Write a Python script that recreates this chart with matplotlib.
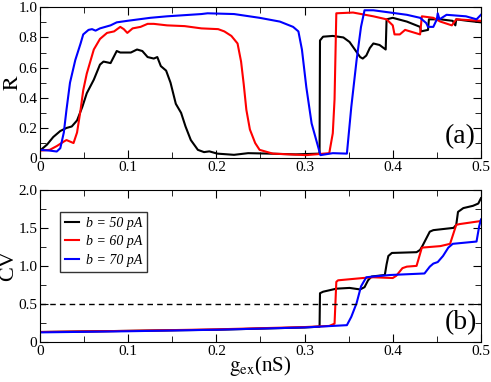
import numpy as np
import matplotlib
matplotlib.use('Agg')
import matplotlib.pyplot as plt
from matplotlib.ticker import MultipleLocator, FuncFormatter

plt.rcParams['font.family'] = ['Liberation Serif', 'DejaVu Serif']
plt.rcParams['mathtext.fontset'] = 'stix'

# order parameter R, panel (a)
g_r50 = [0, 0.008, 0.015, 0.023, 0.030, 0.036, 0.042, 0.048, 0.053, 0.061, 0.068, 0.072, 0.080, 0.087,
         0.091, 0.103, 0.110, 0.116, 0.122, 0.129, 0.133, 0.137, 0.143, 0.148, 0.154, 0.160, 0.165,
         0.171, 0.179, 0.186, 0.192, 0.201, 0.220, 0.236, 0.260, 0.290, 0.317, 0.3175, 0.321, 0.332,
         0.344, 0.351, 0.357, 0.363, 0.366, 0.370, 0.374, 0.378, 0.385, 0.392, 0.393, 0.400, 0.416,
         0.431, 0.432, 0.440, 0.441, 0.454, 0.468, 0.471, 0.472, 0.485, 0.500]
r50 = [0.05, 0.09, 0.14, 0.18, 0.20, 0.21, 0.25, 0.34, 0.43, 0.52, 0.62, 0.64, 0.63, 0.71,
       0.70, 0.70, 0.72, 0.71, 0.67, 0.66, 0.67, 0.61, 0.58, 0.50, 0.36, 0.30, 0.21,
       0.12, 0.055, 0.04, 0.045, 0.03, 0.022, 0.033, 0.03, 0.025, 0.03, 0.78, 0.805, 0.81,
       0.80, 0.77, 0.72, 0.67, 0.66, 0.68, 0.73, 0.76, 0.75, 0.72, 0.92, 0.93, 0.905,
       0.87, 0.84, 0.85, 0.92, 0.92, 0.91, 0.88, 0.92, 0.91, 0.90]

g_r60 = [0, 0.011, 0.019, 0.027, 0.030, 0.034, 0.038, 0.042, 0.046, 0.049, 0.053, 0.061, 0.068, 0.076,
         0.084, 0.091, 0.095, 0.099, 0.105, 0.114, 0.122, 0.129, 0.144, 0.164, 0.183, 0.202, 0.209,
         0.217, 0.224, 0.228, 0.231, 0.234, 0.238, 0.244, 0.249, 0.264, 0.302, 0.328, 0.332, 0.334,
         0.336, 0.355, 0.378, 0.393, 0.400, 0.402, 0.408, 0.414, 0.431, 0.433, 0.446, 0.454, 0.467,
         0.472, 0.500]
r60 = [0.05, 0.055, 0.08, 0.11, 0.12, 0.11, 0.10, 0.17, 0.32, 0.45, 0.56, 0.72, 0.79, 0.83,
       0.84, 0.87, 0.855, 0.83, 0.86, 0.87, 0.89, 0.89, 0.88, 0.875, 0.86, 0.855, 0.84,
       0.81, 0.76, 0.64, 0.49, 0.32, 0.19, 0.10, 0.055, 0.03, 0.02, 0.033, 0.165, 0.39,
       0.96, 0.965, 0.94, 0.92, 0.88, 0.82, 0.82, 0.85, 0.82, 0.94, 0.93, 0.905, 0.88,
       0.92, 0.91]

g_r70 = [0, 0.011, 0.019, 0.023, 0.027, 0.030, 0.034, 0.040, 0.046, 0.049, 0.055, 0.059, 0.063, 0.068,
         0.080, 0.087, 0.099, 0.125, 0.144, 0.183, 0.190, 0.220, 0.249, 0.272, 0.287, 0.293, 0.297,
         0.302, 0.308, 0.318, 0.332, 0.348, 0.353, 0.359, 0.364, 0.368, 0.378, 0.397, 0.416, 0.431,
         0.438, 0.440, 0.446, 0.450, 0.451, 0.453, 0.461, 0.483, 0.495, 0.500]
r70 = [0.055, 0.05, 0.044, 0.066, 0.17, 0.32, 0.50, 0.65, 0.76, 0.82, 0.85, 0.855, 0.845, 0.86,
       0.88, 0.90, 0.91, 0.93, 0.94, 0.955, 0.96, 0.955, 0.93, 0.905, 0.87, 0.84, 0.72,
       0.47, 0.23, 0.02, 0.033, 0.03, 0.34, 0.65, 0.87, 0.98, 0.98, 0.965, 0.95, 0.93,
       0.895, 0.87, 0.87, 0.92, 0.96, 0.92, 0.95, 0.94, 0.92, 0.95]

# coefficient of variation, panel (b)
g_cv50 = [0, 0.1, 0.2, 0.3, 0.317, 0.3175, 0.321, 0.336, 0.351, 0.363, 0.368, 0.372, 0.376, 0.391,
          0.393, 0.395, 0.399, 0.427, 0.431, 0.434, 0.442, 0.446, 0.469, 0.472, 0.474, 0.480,
          0.491, 0.497, 0.500]
cv50 = [0.13, 0.145, 0.16, 0.19, 0.20, 0.64, 0.66, 0.70, 0.71, 0.69, 0.72, 0.81, 0.86, 0.88,
        1.02, 1.13, 1.17, 1.18, 1.21, 1.27, 1.45, 1.47, 1.50, 1.54, 1.71, 1.76,
        1.79, 1.82, 1.89]

g_cv60 = [0, 0.1, 0.2, 0.3, 0.328, 0.334, 0.336, 0.338, 0.366, 0.378, 0.400, 0.404, 0.411, 0.416,
          0.427, 0.433, 0.454, 0.465, 0.472, 0.476, 0.500]
cv60 = [0.13, 0.145, 0.165, 0.195, 0.21, 0.24, 0.79, 0.81, 0.84, 0.85, 0.84, 0.87, 0.97, 0.99,
        1.00, 1.24, 1.26, 1.29, 1.54, 1.55, 1.59]

g_cv70 = [0, 0.1, 0.2, 0.3, 0.348, 0.353, 0.359, 0.364, 0.370, 0.378, 0.397, 0.436, 0.442, 0.446,
          0.451, 0.457, 0.463, 0.468, 0.495, 0.498, 0.500]
cv70 = [0.125, 0.14, 0.16, 0.19, 0.22, 0.33, 0.51, 0.73, 0.85, 0.86, 0.88, 0.90, 0.99, 1.03,
        1.05, 1.13, 1.24, 1.29, 1.32, 1.52, 1.61]

labels = ['b = 50 pA', 'b = 60 pA', 'b = 70 pA']
colors = ['black', 'red', 'blue']


def style(ax):
    ax.set_xlim(0, 0.5)
    ax.xaxis.set_major_locator(MultipleLocator(0.1))
    ax.xaxis.set_minor_locator(MultipleLocator(0.05))
    ax.tick_params(which='both', direction='in', top=True, right=True, labelsize=11, pad=2)
    ax.tick_params(which='major', length=6)
    ax.tick_params(which='minor', length=4)
    ax.xaxis.set_major_formatter(FuncFormatter(lambda v, p: '0' if abs(v) < 1e-9 else '%.1f' % v))
    ax.yaxis.set_major_formatter(FuncFormatter(lambda v, p: '0' if abs(v) < 1e-9 else '%.1f' % v))


fig = plt.figure(figsize=(4.91, 3.82), dpi=100)
ax1 = fig.add_axes([0.0815, 0.586, 0.898, 0.395])
ax2 = fig.add_axes([0.0815, 0.105, 0.898, 0.398])

for g, r, c in zip([g_r50, g_r60, g_r70], [r50, r60, r70], colors):
    ax1.plot(g, r, color=c, lw=1.5)
style(ax1)
ax1.set_ylim(0, 1.0)
ax1.yaxis.set_major_locator(MultipleLocator(0.2))
ax1.yaxis.set_minor_locator(MultipleLocator(0.1))
ax1.set_ylabel(r'$\overline{\mathrm{R}}$', fontsize=16)
ax1.yaxis.set_label_coords(-0.035, 0.5)
ax1.text(0.477, 0.14, '(a)', fontsize=20, ha='center', va='center')

for g, v, c, lab in zip([g_cv50, g_cv60, g_cv70], [cv50, cv60, cv70], colors, labels):
    ax2.plot(g, v, color=c, lw=1.5, label=lab)
ax2.axhline(0.5, color='black', lw=1, ls=(0, (4, 3)))
style(ax2)
ax2.set_ylim(0, 2.0)
ax2.yaxis.set_major_locator(MultipleLocator(0.5))
ax2.yaxis.set_minor_locator(MultipleLocator(0.25))
ax2.set_ylabel('CV', fontsize=16)
ax2.yaxis.set_label_coords(-0.05, 0.5)
ax2.set_xlabel(r'$\mathrm{g_{ex}}$(nS)', fontsize=15)
ax2.xaxis.set_label_coords(0.5, -0.08)
ax2.text(0.477, 0.26, '(b)', fontsize=20, ha='center', va='center')
leg = ax2.legend(loc='upper left', bbox_to_anchor=(0.045, 0.855),
                 prop={'style': 'italic', 'size': 10}, frameon=True,
                 fancybox=False, edgecolor='black', handlelength=1.0, borderpad=0.35,
                 labelspacing=0.4, handletextpad=0.5, borderaxespad=0)
leg.get_frame().set_linewidth(1.0)

fig.savefig('out.png', dpi=100)
